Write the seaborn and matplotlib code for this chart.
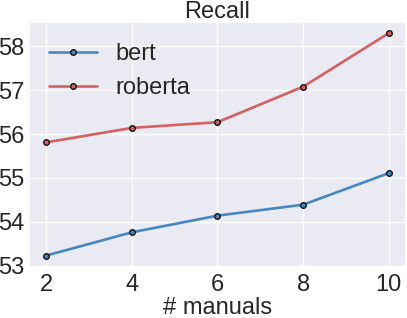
import pandas as pd
import seaborn as sns
import matplotlib
matplotlib.use('Agg')
import matplotlib.pyplot as plt

# values
manuals = [2, 4, 6, 8, 10]
bert = [53.23, 53.76, 54.14, 54.39, 55.11]
roberta = [55.81, 56.14, 56.27, 57.08, 58.30]
recall_ticks = [53, 54, 55, 56, 57, 58]

def main():
    sns.set_theme(style='darkgrid')
    plt.rcParams['font.family'] = ['Liberation Sans', 'DejaVu Sans']
    fs = 17

    df = pd.DataFrame({'manuals': manuals * 2,
                       'recall': bert + roberta,
                       'model': ['bert'] * len(manuals) + ['roberta'] * len(manuals)})

    fig, ax = plt.subplots(figsize=(4.07, 3.18), dpi=100)
    fig.subplots_adjust(left=29/407, right=406/407, top=1-22/318, bottom=1-266.7/318)
    sns.lineplot(data=df, x='manuals', y='recall', hue='model', ax=ax,
                 palette=['#4587C3', '#D65F5F'], linewidth=1.9,
                 marker='o', markersize=4, markeredgecolor='#111111', markeredgewidth=1.0)
    ax.set_xticks(manuals)
    ax.set_yticks(recall_ticks)
    ax.set_title('Recall', fontsize=fs, pad=3)
    ax.set_xlabel('# manuals', fontsize=fs, labelpad=1)
    ax.set_ylabel('')
    ax.tick_params(labelsize=fs, length=0, pad=3)
    ax.tick_params(axis='x', pad=5)
    ax.legend(loc='upper left', bbox_to_anchor=(0.01, 0.98), frameon=False, fontsize=fs,
              title=None, borderaxespad=0.3, handletextpad=0.8, labelspacing=0.5)
    fig.savefig('out.png', dpi=100)

if __name__ == '__main__':
    main()
